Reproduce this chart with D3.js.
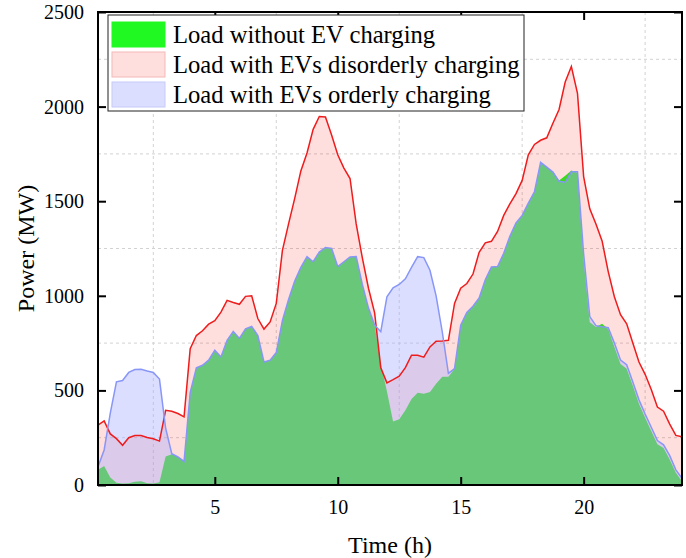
<!DOCTYPE html>
<html><head><meta charset="utf-8">
<script src="https://cdn.jsdelivr.net/npm/d3@7"></script>
<style>
body{margin:0;background:#fff}
svg{display:block}
text{font-family:"Liberation Serif","Times New Roman",serif;fill:#000}
</style>
</head><body>
<svg id="c" width="686" height="558"></svg>
<script>
// time axis: 15-minute steps from 0.25 h to 24 h
const time = d3.range(1, 97).map(i => i * 0.25);

const loadBase = [80,100,40,12,8,9,17,20,9,8,15,150,163,148,125,490,620,633,
  660,712,677,765,812,775,825,838,790,650,660,700,870,980,1078,1150,1207,1180,
  1232,1255,1250,1155,1180,1205,1208,1060,935,845,640,495,335,348,395,455,488,482,
  492,535,572,572,615,845,912,945,988,1085,1152,1155,1225,1315,1385,1425,1490,1550,
  1705,1680,1654,1610,1635,1662,1650,1190,860,835,852,825,730,640,615,525,430,355,
  285,215,195,135,65,20];

const loadDisorderly = [316,339,270,245,210,250,262,262,251,244,232,395,390,378,360,720,790,815,
  850,868,914,976,965,955,997,1000,880,824,862,960,1240,1380,1515,1660,1755,1880,
  1948,1945,1850,1745,1675,1620,1380,1200,1040,910,620,540,557,575,620,686,686,676,
  730,760,761,765,960,1040,1065,1115,1230,1280,1288,1340,1425,1486,1540,1610,1745,1800,
  1822,1835,1912,1985,2130,2212,2070,1630,1460,1380,1290,1128,995,900,852,750,650,585,
  505,412,390,322,262,255];

const loadOrderly = [97,185,380,545,552,595,610,612,603,595,560,300,165,148,125,490,620,633,
  660,712,677,765,812,775,825,838,790,650,660,700,870,980,1078,1150,1207,1180,
  1232,1255,1250,1155,1180,1205,1208,1060,935,845,810,995,1042,1060,1090,1150,1207,1202,
  1135,1000,810,590,615,845,912,945,988,1085,1152,1155,1225,1315,1385,1425,1490,1550,
  1705,1680,1654,1605,1600,1655,1655,1220,890,842,836,832,750,660,636,545,450,375,
  305,235,212,155,80,35];

const xTicks = [5, 10, 15, 20];
const yTicks = [0, 500, 1000, 1500, 2000, 2500];
const xGrid = [2.5, 7.5, 12.5, 17.5, 22.5];
const yGrid = [250, 750, 1250, 1750, 2250];
const legendLabels = ["Load without EV charging", "Load with EVs disorderly charging", "Load with EVs orderly charging"];

const L = 98, R = 682, T = 12, B = 485;
const svg = d3.select("#c");
const x = d3.scaleLinear().domain([0.25, 24]).range([L, R]);
const y = d3.scaleLinear().domain([0, 2500]).range([B, T]);

svg.append("rect").attr("width", 686).attr("height", 558).attr("fill", "#fff");

svg.append("defs").append("clipPath").attr("id", "clip")
  .append("rect").attr("x", L).attr("y", T).attr("width", R - L).attr("height", B - T);

// grid
const g = svg.append("g");
g.selectAll(".vg").data(xGrid).join("line")
  .attr("x1", d => x(d)).attr("x2", d => x(d)).attr("y1", T).attr("y2", B)
  .attr("stroke", "#d2d2d2").attr("stroke-width", 1).attr("stroke-dasharray", "3,3");
g.selectAll(".hg").data(yGrid).join("line")
  .attr("x1", L).attr("x2", R).attr("y1", d => y(d)).attr("y2", d => y(d))
  .attr("stroke", "#d2d2d2").attr("stroke-width", 1).attr("stroke-dasharray", "3,3");

const plot = svg.append("g").attr("clip-path", "url(#clip)");
const area = vals => d3.area().x((d, i) => x(time[i])).y0(y(0)).y1((d) => y(d))(vals);
const line = vals => d3.line().x((d, i) => x(time[i])).y(d => y(d))(vals);

const greenFill = "#20fa22", redFill = "#ff0000", blueFill = "#aaafff";
const redA = 0.13, blueA = 0.41;

plot.append("path").attr("d", area(loadBase)).attr("fill", greenFill);
plot.append("path").attr("d", area(loadDisorderly)).attr("fill", redFill).attr("fill-opacity", redA);
plot.append("path").attr("d", area(loadOrderly)).attr("fill", blueFill).attr("fill-opacity", blueA);
plot.append("path").attr("d", line(loadDisorderly)).attr("fill", "none").attr("stroke", "#ee1c1c").attr("stroke-width", 1.5);
plot.append("path").attr("d", line(loadOrderly)).attr("fill", "none").attr("stroke", "#8896f8").attr("stroke-width", 1.5);

// axes
const fs = 20;
const fmt = d3.format("d");
const ax = svg.append("g").attr("transform", `translate(0,${B})`)
  .call(d3.axisBottom(x).tickValues(xTicks).tickFormat(fmt).tickSizeInner(-8).tickSizeOuter(0).tickPadding(15));
const ay = svg.append("g").attr("transform", `translate(${L},0)`)
  .call(d3.axisLeft(y).tickValues(yTicks).tickFormat(fmt).tickSizeInner(-8).tickSizeOuter(0).tickPadding(14));
const at = svg.append("g").attr("transform", `translate(0,${T})`)
  .call(d3.axisTop(x).tickValues(xTicks).tickSizeInner(-8).tickSizeOuter(0).tickFormat(""));
const ar = svg.append("g").attr("transform", `translate(${R},0)`)
  .call(d3.axisRight(y).tickValues(yTicks).tickSizeInner(-8).tickSizeOuter(0).tickFormat(""));
[ax, ay, at, ar].forEach(a => {
  a.select(".domain").remove();
  a.selectAll("line").attr("stroke", "#000").attr("stroke-width", 2);
  a.selectAll("text").attr("font-size", fs).attr("font-family", '"Liberation Serif",serif').attr("fill", "#000");
});

svg.append("rect").attr("x", L).attr("y", T).attr("width", R - L).attr("height", B - T)
  .attr("fill", "none").attr("stroke", "#000").attr("stroke-width", 2);

// titles
svg.append("text").attr("x", (L + R) / 2).attr("y", 553).attr("text-anchor", "middle")
  .attr("font-size", 24).text("Time (h)");
svg.append("text").attr("transform", `translate(34,${(T + B) / 2}) rotate(-90)`)
  .attr("text-anchor", "middle").attr("font-size", 24).text("Power (MW)");

// legend
const lg = svg.append("g");
lg.append("rect").attr("x", 108).attr("y", 15).attr("width", 416).attr("height", 96)
  .attr("fill", "#fff").attr("stroke", "#222").attr("stroke-width", 1);
const swatches = [
  {fill: greenFill, op: 1, stroke: greenFill},
  {fill: redFill, op: redA, stroke: "#f4b8b8"},
  {fill: blueFill, op: blueA, stroke: "#c6caf8"}
];
legendLabels.forEach((lab, i) => {
  lg.append("rect").attr("x", 112).attr("y", 22 + i * 30).attr("width", 53).attr("height", 25)
    .attr("fill", swatches[i].fill).attr("fill-opacity", swatches[i].op)
    .attr("stroke", swatches[i].stroke).attr("stroke-width", 1);
  lg.append("text").attr("x", 173).attr("y", 43 + i * 30).attr("font-size", 24.6).text(lab);
});
</script>
</body></html>
